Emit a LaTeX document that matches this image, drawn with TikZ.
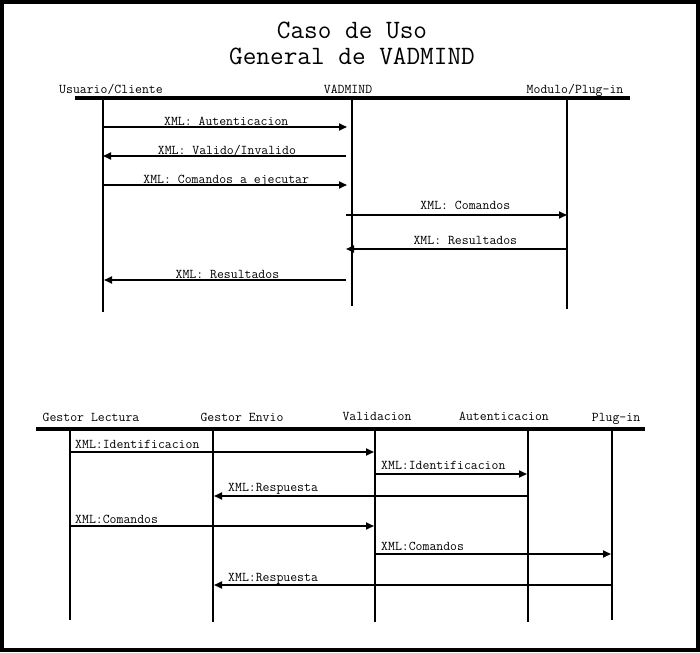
\documentclass[tikz,border=0pt]{standalone}
\usepackage{fontspec}
\usetikzlibrary{arrows.meta}
\tikzset{
  head/.style={line width=4pt},
  life/.style={line width=2pt},
  msg/.style={line width=1.8pt,-{Triangle[length=8pt,width=7pt]}},
  lbl/.style={font=\ttfamily\fontsize{13.4}{15}\selectfont,inner sep=0pt,anchor=base},
  lbll/.style={font=\ttfamily\fontsize{13.4}{15}\selectfont,inner sep=0pt,anchor=base west},
  actor/.style={font=\ttfamily\fontsize{13.4}{15}\selectfont,inner sep=0pt,anchor=base},
  ttl/.style={font=\ttfamily\fontsize{26.5}{30}\selectfont,inner sep=0pt,anchor=base}
}
\begin{document}
\begin{tikzpicture}[x=1pt,y=-1pt]
\useasboundingbox (0,0) rectangle (700,652);
\fill[black] (0,0) rectangle (700,652);
\fill[white] (4,4) rectangle (696,648);
% title
\node[ttl] (t1) at (352,39) {Caso de Uso};
\node[ttl] (t2) at (352,64.5) {General de VADMIND};
% top diagram
\node[actor] (a1) at (111,94) {Usuario/Cliente};
\node[actor] (a2) at (348,94) {VADMIND};
\node[actor] (a3) at (575,94) {Modulo/Plug-in};
\coordinate (h1a) at (75,98); \coordinate (h1b) at (630,98);
\draw[head] (h1a) -- (h1b);
\coordinate (u1) at (103,98); \coordinate (u1e) at (103,312);
\coordinate (v1) at (352,98); \coordinate (v1e) at (352,306);
\coordinate (p1) at (567,98); \coordinate (p1e) at (567,309);
\draw[life] (u1) -- (u1e);
\draw[life] (v1) -- (v1e);
\draw[life] (p1) -- (p1e);
% messages top
\path (103,127) coordinate (m1a) (347,127) coordinate (m1b);
\draw[msg] (m1a) -- (m1b) node[lbl,pos=0.505,yshift=1.5pt] {XML: Autenticacion};
\path (346,156) coordinate (m2a) (103,156) coordinate (m2b);
\draw[msg] (m2a) -- (m2b) node[lbl,pos=0.49,yshift=1.5pt] {XML: Valido/Invalido};
\path (103,185) coordinate (m3a) (347,185) coordinate (m3b);
\draw[msg] (m3a) -- (m3b) node[lbl,pos=0.505,yshift=1.5pt] {XML: Comandos a ejecutar};
\path (346,215) coordinate (m4a) (567,215) coordinate (m4b);
\draw[msg] (m4a) -- (m4b) node[lbl,pos=0.54,yshift=5pt] {XML: Comandos};
\path (567,249) coordinate (m5a) (346,249) coordinate (m5b);
\draw[msg] (m5a) -- (m5b) node[lbl,pos=0.46,yshift=5pt] {XML: Resultados};
\path (346,280) coordinate (m6a) (104,280) coordinate (m6b);
\draw[msg] (m6a) -- (m6b) node[lbl,pos=0.49,yshift=1.5pt] {XML: Resultados};
% bottom diagram
\node[actor] (b1) at (91,421) {Gestor Lectura};
\node[actor] (b2) at (242,421) {Gestor Envio};
\node[actor] (b3) at (377,420) {Validacion};
\node[actor] (b4) at (504,420) {Autenticacion};
\node[actor] (b5) at (616,421) {Plug-in};
\coordinate (h2a) at (36,429); \coordinate (h2b) at (645,429);
\draw[head] (h2a) -- (h2b);
\coordinate (g1) at (70,429); \coordinate (g1e) at (70,620);
\coordinate (g2) at (213,429); \coordinate (g2e) at (213,622);
\coordinate (g3) at (375,429); \coordinate (g3e) at (375,622);
\coordinate (g4) at (528,429); \coordinate (g4e) at (528,622);
\coordinate (g5) at (612,429); \coordinate (g5e) at (612,620);
\foreach \a/\b in {g1/g1e,g2/g2e,g3/g3e,g4/g4e,g5/g5e} \draw[life] (\a) -- (\b);
\path (70,452) coordinate (n1a) (374,452) coordinate (n1b);
\draw[msg] (n1a) -- (n1b);
\node[lbll] (l1) at (75,448) {XML:Identificacion};
\path (376,474) coordinate (n2a) (527,474) coordinate (n2b);
\draw[msg] (n2a) -- (n2b);
\node[lbll] (l2) at (381,469) {XML:Identificacion};
\path (528,496) coordinate (n3a) (214,496) coordinate (n3b);
\draw[msg] (n3a) -- (n3b);
\node[lbll] (l3) at (228,491) {XML:Respuesta};
\path (70,526) coordinate (n4a) (374,526) coordinate (n4b);
\draw[msg] (n4a) -- (n4b);
\node[lbll] (l4) at (75,523) {XML:Comandos};
\path (376,554) coordinate (n5a) (611,554) coordinate (n5b);
\draw[msg] (n5a) -- (n5b);
\node[lbll] (l5) at (381,550) {XML:Comandos};
\path (612,585) coordinate (n6a) (214,585) coordinate (n6b);
\draw[msg] (n6a) -- (n6b);
\node[lbll] (l6) at (228,581) {XML:Respuesta};
\end{tikzpicture}
\end{document}
